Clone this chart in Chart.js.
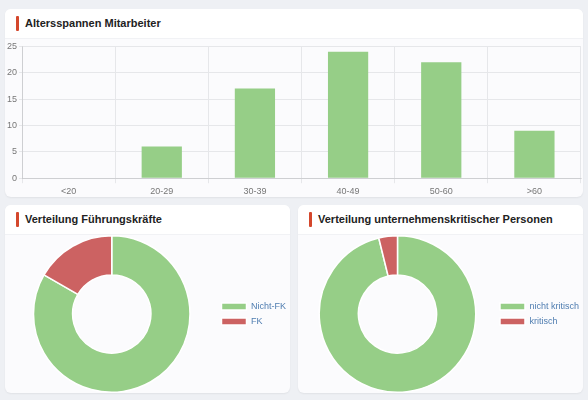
<!DOCTYPE html>
<html>
<head>
<meta charset="utf-8">
<script src="https://cdn.jsdelivr.net/npm/chart.js@4/dist/chart.umd.min.js"></script>
<style>
  body { margin: 0; background: #eef0f4; font-family: "Liberation Sans", Arial, sans-serif; }
  .card { position: absolute; background: #fbfbfd; border-radius: 6px; box-shadow: 0 1px 2px rgba(0,0,0,0.06); overflow: hidden; }
  .head { height: 29px; background: #fff; border-bottom: 1px solid #f1f2f5; position: relative; }
  .head .bar { position: absolute; left: 11px; top: 7px; width: 3px; height: 15px; background: #d4472c; border-radius: 1px; }
  .head .title { position: absolute; left: 20px; top: 8px; font-size: 11px; font-weight: bold; color: #222; }
  canvas { display: block; }
</style>
</head>
<body>
<div class="card" style="left:5px;top:9px;width:578px;height:188px">
  <div class="head"><div class="bar"></div><div class="title">Altersspannen Mitarbeiter</div></div>
  <div style="width:578px;height:161px"><canvas id="barChart"></canvas></div>
</div>
<div class="card" style="left:5px;top:205px;width:285px;height:188px">
  <div class="head"><div class="bar"></div><div class="title">Verteilung Führungskräfte</div></div>
  <div style="width:285px;height:158px"><canvas id="fkChart"></canvas></div>
</div>
<div class="card" style="left:298px;top:205px;width:285px;height:188px">
  <div class="head"><div class="bar"></div><div class="title">Verteilung unternehmenskritischer Personen</div></div>
  <div style="width:285px;height:158px"><canvas id="kritChart"></canvas></div>
</div>
<script>
const ageLabels = ["<20", "20-29", "30-39", "40-49", "50-60", ">60"];
const ageCounts = [0, 6, 17, 24, 22, 9];

const fkLabels = ["Nicht-FK", "FK"];
const fkCounts = [65, 13];

const kritLabels = ["nicht kritisch", "kritisch"];
const kritCounts = [75, 3];

const green = '#96ce87';
const red = '#cc6262';
const tickColor = '#777';
const gridColor = '#e6e7ea';

new Chart(document.getElementById("barChart"), {
  type: 'bar',
  data: {
    labels: ageLabels,
    datasets: [{
      data: ageCounts,
      backgroundColor: green,
      borderWidth: 0,
      barPercentage: 0.54,
      categoryPercentage: 0.8
    }]
  },
  options: {
    responsive: true,
    maintainAspectRatio: false,
    animation: false,
    layout: { padding: { top: 0, right: 2, left: 0, bottom: 0 } },
    plugins: { legend: { display: false }, tooltip: { enabled: false } },
    scales: {
      x: {
        ticks: { color: tickColor, font: { size: 9 }, padding: 3 },
        grid: { color: gridColor, tickLength: 5 }
      },
      y: {
        min: 0, max: 25,
        ticks: { stepSize: 5, color: tickColor, font: { size: 9 }, padding: 2 },
        grid: { color: gridColor, tickLength: 3 }
      }
    }
  }
});

function donut(id, labels, counts) {
  new Chart(document.getElementById(id), {
    type: 'doughnut',
    data: {
      labels,
      datasets: [{
        data: counts,
        backgroundColor: [green, red],
        borderColor: '#fff',
        borderWidth: 1.5
      }]
    },
    options: {
      responsive: true,
      maintainAspectRatio: false,
      animation: false,
      cutout: '50%',
      layout: { padding: { left: 3, right: -6, top: 0, bottom: 0 } },
      plugins: {
        tooltip: { enabled: false },
        legend: {
          position: 'right',
          labels: {
            boxWidth: 25,
            boxHeight: 7,
            padding: 6,
            color: '#4f7db0',
            font: { size: 9 }
          }
        }
      }
    }
  });
}

donut("fkChart", fkLabels, fkCounts);
donut("kritChart", kritLabels, kritCounts);
</script>
</body>
</html>
